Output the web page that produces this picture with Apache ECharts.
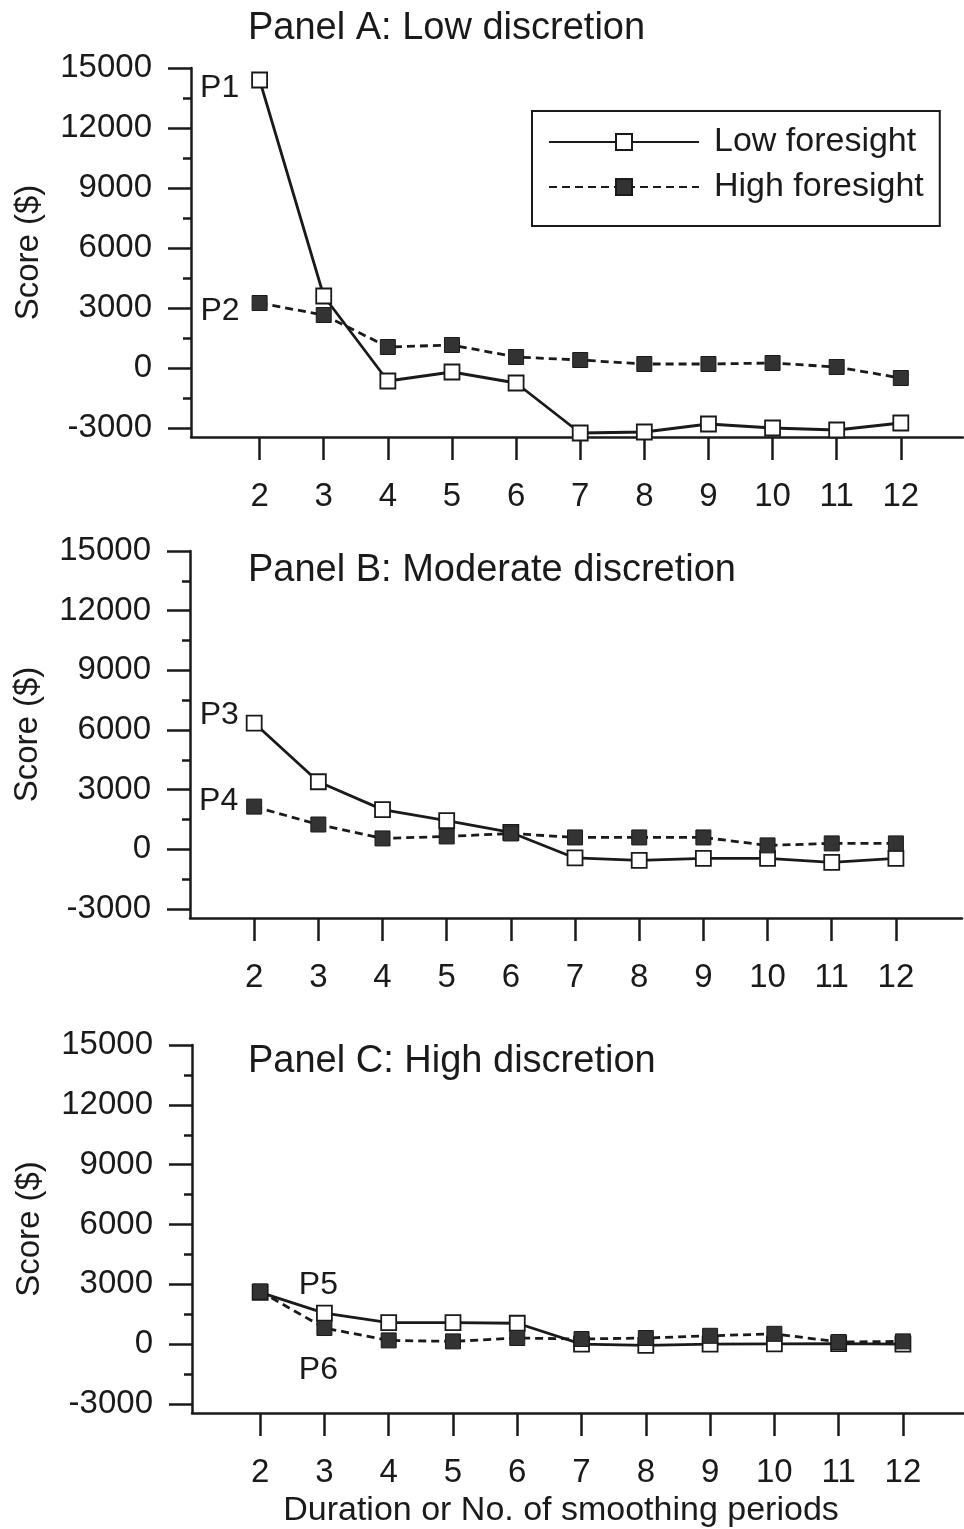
<!DOCTYPE html>
<html>
<head>
<meta charset="utf-8">
<script src="https://cdn.jsdelivr.net/npm/echarts@6/dist/echarts.min.js"></script>
<style>
    html, body { margin: 0; padding: 0; background: #fff; }
    #chart { width: 964px; height: 1529px; }
</style>
</head>
<body>
<div id="chart"></div>
<script>
// x 轴：平滑期数
var periods = [2, 3, 4, 5, 6, 7, 8, 9, 10, 11, 12];

// Panel A: Low discretion
var lowA  = [14400, 3600, -650, -200, -750, -3250, -3200, -2800, -3000, -3100, -2750];
var highA = [3250, 2650, 1050, 1150, 550, 400, 200, 200, 250, 50, -500];
// Panel B: Moderate discretion
var lowB  = [6350, 3400, 2000, 1450, 850, -430, -550, -450, -450, -650, -450];
var highB = [2150, 1250, 550, 650, 800, 600, 600, 600, 200, 300, 300];
// Panel C: High discretion
var lowC  = [2600, 1560, 1080, 1080, 1050, 0, -60, 0, 20, 30, 0];
var highC = [2650, 810, 190, 140, 310, 260, 310, 420, 520, 110, 140];

var yTicks = [-3000, 0, 3000, 6000, 9000, 12000, 15000];
var yMinorTicks = [-1500, 1500, 4500, 7500, 10500, 13500];

var panelTitles = ['Panel A: Low discretion', 'Panel B: Moderate discretion', 'Panel C: High discretion'];
var seriesNames = ['Low foresight', 'High foresight'];
var pointLabels = ['P1', 'P2', 'P3', 'P4', 'P5', 'P6'];

var FONT = 'Liberation Sans';
var INK = '#1a1a1a';

// 每个面板的绘图区位置
var panels = [
    {top: 68,   height: 369, left: 191, right: 1, xMin: 0.93, xMax: 12.97, titleTop: 10},
    {top: 551,  height: 367, left: 190, right: 2, xMin: 1.0,  xMax: 13.03, titleTop: 552},
    {top: 1045, height: 369, left: 192, right: 0, xMin: 0.94, xMax: 12.95, titleTop: 1043}
];

function buildData(ys, labelIndex, label) {
    return periods.map(function(p, i) {
        if (i === labelIndex) {
            return {value: [p, ys[i]], label: label};
        }
        return [p, ys[i]];
    });
}

function tagLabel(text, position, distance, offset) {
    return {
        show: true,
        formatter: text,
        position: position,
        distance: distance,
        offset: offset,
        fontFamily: FONT,
        fontSize: 32,
        lineHeight: 32,
        color: INK
    };
}

var lowSets = [lowA, lowB, lowC];
var highSets = [highA, highB, highC];
var lowTags = [
    tagLabel(pointLabels[0], 'left', 12, [0, 8]),
    tagLabel(pointLabels[2], 'left', 7, [0, -8]),
    tagLabel(pointLabels[4], 'top', 3, [-6, 0])
];
var highTags = [
    tagLabel(pointLabels[1], 'left', 12, [0, 8]),
    tagLabel(pointLabels[3], 'left', 8, [0, -5]),
    tagLabel(pointLabels[5], 'bottom', 18, [-6, 0])
];
var lowTagIndex = [0, 0, 1];
var highTagIndex = [0, 0, 1];

var grids = [], xAxes = [], yAxes = [], series = [], titles = [];

panels.forEach(function(pn, k) {
    grids.push({left: pn.left, right: pn.right, top: pn.top, height: pn.height});

    titles.push({
        text: panelTitles[k],
        left: 248,
        top: pn.titleTop,
        padding: 0,
        textStyle: {fontFamily: FONT, fontSize: 38, lineHeight: 38, fontWeight: 'normal', color: INK}
    });

    var xAxis = {
        type: 'value',
        gridIndex: k,
        min: pn.xMin,
        max: pn.xMax,
        axisLine: {onZero: false, lineStyle: {color: INK, width: 2.5}},
        axisTick: {customValues: periods, length: 23, lineStyle: {color: INK, width: 2.5}},
        axisLabel: {customValues: periods, margin: 43, fontFamily: FONT, fontSize: 33, color: INK},
        splitLine: {show: false}
    };
    if (k === 2) {
        xAxis.name = 'Duration or No. of smoothing periods';
        xAxis.nameLocation = 'middle';
        xAxis.nameGap = 81;
        xAxis.nameTextStyle = {fontFamily: FONT, fontSize: 34, lineHeight: 34, color: INK, padding: [0, 34, 0, 0]};
    }
    xAxes.push(xAxis);

    // 主刻度 + 标签
    yAxes.push({
        type: 'value',
        gridIndex: k,
        position: 'left',
        min: -3450,
        max: 15000,
        name: 'Score ($)',
        nameLocation: 'middle',
        nameGap: 146,
        nameTextStyle: {fontFamily: FONT, fontSize: 33, color: INK},
        axisLine: {show: true, onZero: false, lineStyle: {color: INK, width: 2.5}},
        axisTick: {show: true, customValues: yTicks, length: 23, lineStyle: {color: INK, width: 2.5}},
        axisLabel: {
            customValues: yTicks, margin: 39, fontFamily: FONT, fontSize: 33, color: INK,
            formatter: function(v) { return String(v); }
        },
        splitLine: {show: false}
    });
    // 次刻度
    yAxes.push({
        type: 'value',
        gridIndex: k,
        position: 'left',
        min: -3450,
        max: 15000,
        axisLine: {show: false},
        axisTick: {show: true, customValues: yMinorTicks, length: 8, lineStyle: {color: INK, width: 2.5}},
        axisLabel: {show: false},
        splitLine: {show: false}
    });

    series.push({
        name: seriesNames[0],
        type: 'line',
        xAxisIndex: k,
        yAxisIndex: k * 2,
        data: buildData(lowSets[k], lowTagIndex[k], lowTags[k]),
        symbol: 'rect',
        symbolSize: 15,
        lineStyle: {color: INK, width: 2.8, type: 'solid'},
        itemStyle: {color: '#fff', borderColor: INK, borderWidth: 1.8},
        z: 2
    });
    series.push({
        name: seriesNames[1],
        type: 'line',
        xAxisIndex: k,
        yAxisIndex: k * 2,
        data: buildData(highSets[k], highTagIndex[k], highTags[k]),
        symbol: 'rect',
        symbolSize: 15,
        lineStyle: {color: INK, width: 2.8, type: [8, 5]},
        itemStyle: {color: '#333', borderColor: INK, borderWidth: 1},
        z: 3
    });
});

var myChart = echarts.init(document.getElementById('chart'), null, {renderer: 'canvas'});
var option = {
    animation: false,
    backgroundColor: '#fff',
    title: titles,
    legend: {
        data: seriesNames,
        orient: 'vertical',
        left: 532,
        top: 111,
        padding: [14, 16, 22, 16],
        itemWidth: 150,
        itemHeight: 20,
        itemGap: 11,
        borderColor: INK,
        borderWidth: 2,
        textStyle: {fontFamily: FONT, fontSize: 34, lineHeight: 32, color: INK, padding: [0, 0, 0, 10]}
    },
    grid: grids,
    xAxis: xAxes,
    yAxis: yAxes,
    series: series
};
myChart.setOption(option);
</script>
</body>
</html>
